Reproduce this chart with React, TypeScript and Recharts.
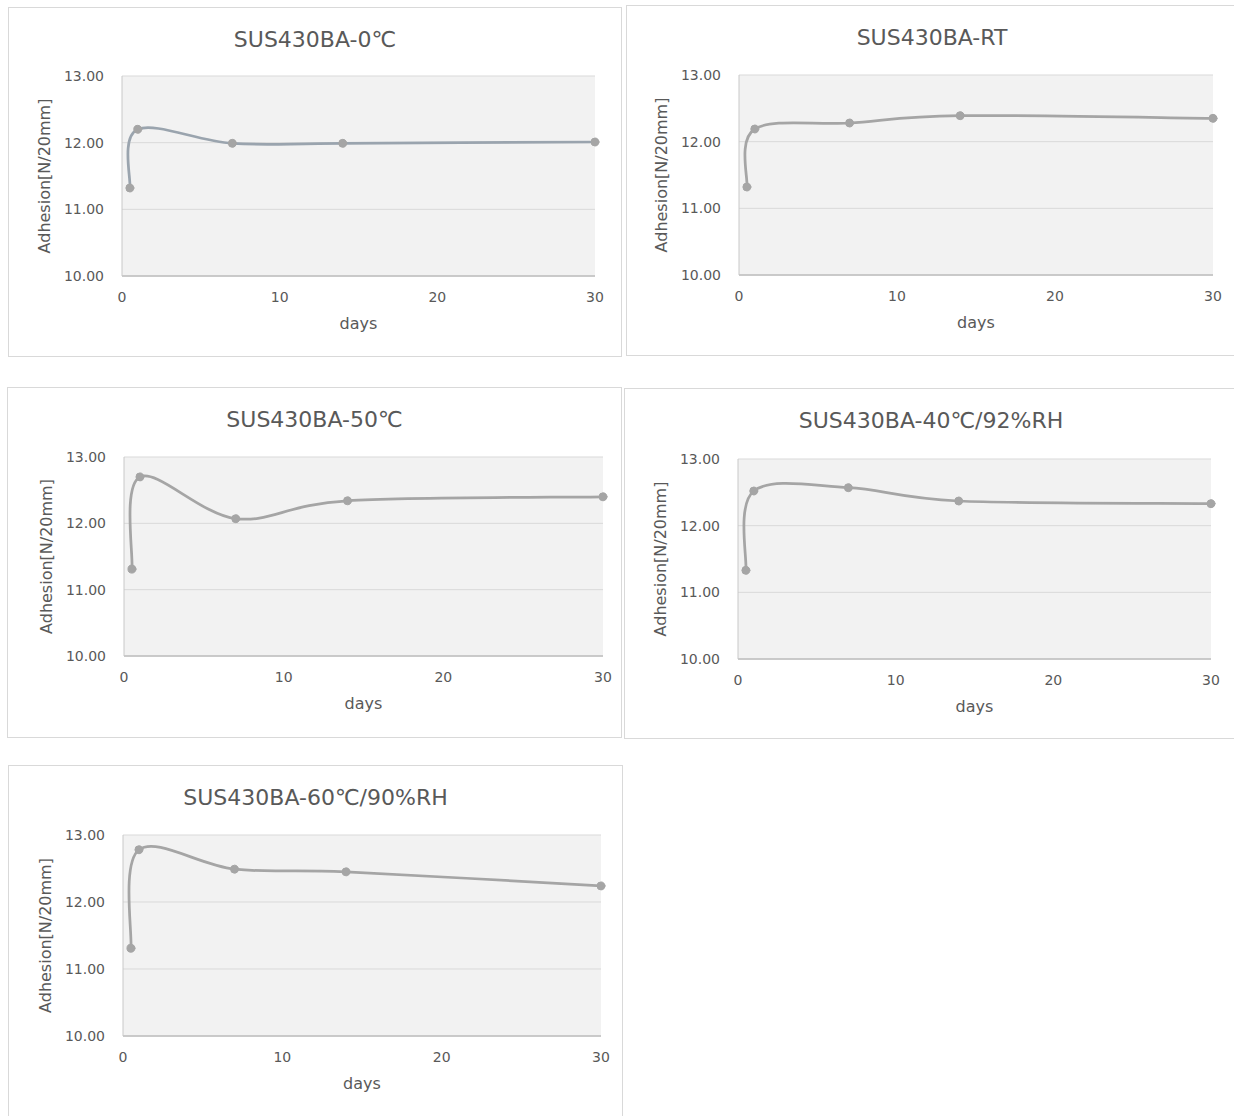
import React from 'react';
import { LineChart, Line, XAxis, YAxis, CartesianGrid } from 'recharts';

// ---------- data ----------
const days = [0.5, 1, 7, 14, 30];
const titles = [
  'SUS430BA-0℃',
  'SUS430BA-RT',
  'SUS430BA-50℃',
  'SUS430BA-40℃/92%RH',
  'SUS430BA-60℃/90%RH',
];
const adhesion0C = [11.32, 12.2, 11.99, 11.99, 12.01];
const adhesionRT = [11.32, 12.19, 12.28, 12.39, 12.35];
const adhesion50C = [11.31, 12.7, 12.07, 12.34, 12.4];
const adhesion40C92RH = [11.33, 12.52, 12.57, 12.37, 12.33];
const adhesion60C90RH = [11.31, 12.78, 12.49, 12.45, 12.24];
const xTicks = [0, 10, 20, 30];
const yTicks = [10, 11, 12, 13];
const xLabel = 'days';
const yLabel = 'Adhesion[N/20mm]';

// ---------- layout (frame + plot rectangles, page coords) ----------
const panels = [
  { title: titles[0], values: adhesion0C, color: '#9aa4ae', x: 8, y: 7, w: 614, h: 350, pl: 122, pt: 76, pr: 595, pb: 276 },
  { title: titles[1], values: adhesionRT, color: '#a5a5a5', x: 626, y: 5, w: 612, h: 351, pl: 739, pt: 75, pr: 1213, pb: 275 },
  { title: titles[2], values: adhesion50C, color: '#a5a5a5', x: 7, y: 387, w: 615, h: 351, pl: 124, pt: 457, pr: 603, pb: 656 },
  { title: titles[3], values: adhesion40C92RH, color: '#a5a5a5', x: 624, y: 388, w: 614, h: 351, pl: 738, pt: 459, pr: 1211, pb: 659 },
  { title: titles[4], values: adhesion60C90RH, color: '#a5a5a5', x: 8, y: 765, w: 615, h: 360, pl: 123, pt: 835, pr: 601, pb: 1036 },
];

const FONT = '"DejaVu Sans", "Noto Sans", sans-serif';
const TEXT = '#595959';

// Excel-like smoothed line (Catmull-Rom via cubic Bezier)
function excelSmooth(context: any) {
  let pts: number[][] = [];
  return {
    areaStart() {},
    areaEnd() {},
    lineStart() {
      pts = [];
    },
    point(x: number, y: number) {
      pts.push([+x, +y]);
    },
    lineEnd() {
      const n = pts.length;
      if (!n) return;
      context.moveTo(pts[0][0], pts[0][1]);
      if (n === 1) return;
      for (let i = 0; i < n - 1; i++) {
        const p0 = pts[Math.max(i - 1, 0)];
        const p1 = pts[i];
        const p2 = pts[i + 1];
        const p3 = pts[Math.min(i + 2, n - 1)];
        const c1x = p1[0] + (p2[0] - p0[0]) / 6;
        const c1y = p1[1] + (p2[1] - p0[1]) / 6;
        const c2x = p2[0] - (p3[0] - p1[0]) / 6;
        const c2y = p2[1] - (p3[1] - p1[1]) / 6;
        context.bezierCurveTo(c1x, c1y, c2x, c2y, p2[0], p2[1]);
      }
    },
  };
}

function Panel({ p }: { p: any }) {
  const W = p.w;
  const H = p.h;
  const YW = 90;
  const XH = 60;
  const left = p.pl - p.x;
  const top = p.pt - p.y;
  const right = p.x + W - p.pr;
  const bottom = p.y + H - p.pb;
  const data = days.map((d, i) => ({ day: d, value: p.values[i] }));
  const titleCenter = 33;
  return (
    <div
      style={{
        position: 'absolute',
        left: p.x,
        top: p.y,
        width: W,
        height: H,
        border: '1px solid #d9d9d9',
        boxSizing: 'border-box',
        background: '#ffffff',
        overflow: 'hidden',
      }}
    >
      <div style={{ position: 'absolute', left: -1, top: -1 }}>
        <LineChart
          width={W}
          height={H}
          data={data}
          margin={{ top, right, bottom: bottom - XH, left: left - YW }}
        >
          <CartesianGrid vertical={false} stroke="#d9d9d9" fill="#f2f2f2" />
          <XAxis
            type="number"
            dataKey="day"
            domain={[0, 30]}
            ticks={xTicks}
            interval={0}
            height={XH}
            tickSize={0}
            tickLine={false}
            tickMargin={16}
            axisLine={{ stroke: '#bfbfbf', strokeWidth: 1.5 }}
            tick={{ fill: TEXT, fontSize: 14, fontFamily: FONT }}
            label={{ value: xLabel, position: 'insideBottom', offset: 7, fill: TEXT, fontSize: 16, fontFamily: FONT }}
          />
          <YAxis
            type="number"
            domain={[10, 13]}
            ticks={yTicks}
            interval={0}
            width={YW}
            tickSize={0}
            tickLine={false}
            tickMargin={18}
            axisLine={{ stroke: '#c8c8c8' }}
            tickFormatter={(v: number) => v.toFixed(2)}
            tick={{ fill: TEXT, fontSize: 14, fontFamily: FONT }}
            label={{
              value: yLabel,
              angle: -90,
              position: 'insideLeft',
              offset: YW - 78,
              fill: TEXT,
              fontSize: 16,
              fontFamily: FONT,
              style: { textAnchor: 'middle' },
            }}
          />
          <Line
            dataKey="value"
            type={excelSmooth as any}
            stroke={p.color}
            strokeWidth={2.75}
            strokeLinecap="round"
            dot={{ r: 4, fill: '#a5a5a5', stroke: '#a5a5a5', strokeWidth: 1 }}
            activeDot={false}
            isAnimationActive={false}
          />
        </LineChart>
      </div>
      <div
        style={{
          position: 'absolute',
          left: -1,
          top: titleCenter - 11 - 1,
          width: W,
          textAlign: 'center',
          fontFamily: FONT,
          fontSize: 22,
          lineHeight: '22px',
          color: TEXT,
          whiteSpace: 'nowrap',
        }}
      >
        {p.title}
      </div>
    </div>
  );
}

export default function App() {
  return (
    <div
      style={{
        position: 'absolute',
        left: 0,
        top: 0,
        width: 1234,
        height: 1116,
        overflow: 'hidden',
        background: '#ffffff',
      }}
    >
      {panels.map((p, i) => (
        <Panel key={i} p={p} />
      ))}
    </div>
  );
}
